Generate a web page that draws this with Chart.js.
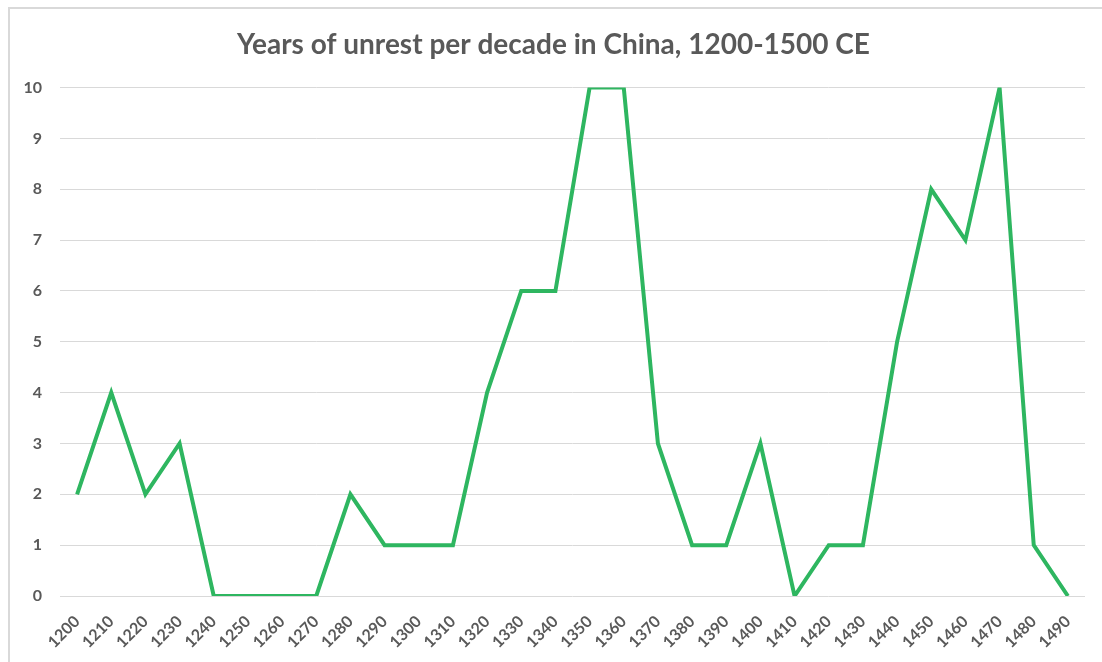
<!DOCTYPE html>
<html>
<head>
<meta charset="utf-8">
<title>Years of unrest per decade in China</title>
<script src="https://cdn.jsdelivr.net/npm/chart.js@4.4.0/dist/chart.umd.min.js"></script>
<style>
  html, body { margin: 0; padding: 0; background: #fff; }
  #wrap { position: relative; width: 1102px; height: 662px; }
  #frame {
    position: absolute; left: 8px; top: 7px; right: 0; bottom: 0;
    border-top: 2px solid #d9d9d9; border-left: 2px solid #d9d9d9;
    pointer-events: none;
  }
</style>
</head>
<body>
<div id="wrap">
  <canvas id="unrestChart" width="1102" height="662"></canvas>
  <div id="frame"></div>
</div>
<script>
  // decades
  const decades = ['1200', '1210', '1220', '1230', '1240', '1250', '1260', '1270', '1280', '1290',
    '1300', '1310', '1320', '1330', '1340', '1350', '1360', '1370', '1380', '1390',
    '1400', '1410', '1420', '1430', '1440', '1450', '1460', '1470', '1480', '1490'];
  // years of unrest in each decade
  const unrestYears = [2, 4, 2, 3, 0, 0, 0, 0, 2, 1,
    1, 1, 4, 6, 6, 10, 10, 3, 1, 1,
    3, 0, 1, 1, 5, 8, 7, 10, 1, 0];
  const yTicks = [0, 1, 2, 3, 4, 5, 6, 7, 8, 9, 10];

  const textGray = '#595959';
  const ctx = document.getElementById('unrestChart').getContext('2d');

  const unrestChart = new Chart(ctx, {
    type: 'line',
    data: {
      labels: decades,
      datasets: [{
        label: 'Years of unrest',
        data: unrestYears,
        borderColor: 'rgb(46, 182, 96)',
        borderWidth: 4,
        pointRadius: 0,
        tension: 0,
        fill: false
      }]
    },
    options: {
      responsive: false,
      animation: false,
      // left padding nudges the title right, y labels are clipped to the scale box so keep it small
      layout: { padding: { left: 22, right: 17, top: 0, bottom: 0 } },
      scales: {
        x: {
          offset: true,
          grid: { display: false },
          border: { display: false },
          ticks: {
            color: textGray,
            font: { family: 'Lato', size: 16, weight: 'bold' },
            maxRotation: 45,
            minRotation: 45,
            autoSkip: false,
            padding: 8
          },
          afterFit: (scale) => { scale.height = 66; }
        },
        y: {
          min: 0,
          max: 10,
          afterBuildTicks: (scale) => { scale.ticks = yTicks.map(v => ({ value: v })); },
          grid: { color: '#d9d9d9', lineWidth: 1, drawTicks: false },
          border: { display: false },
          ticks: {
            color: textGray,
            font: { family: 'Lato', size: 16, weight: 'bold' },
            padding: 18
          },
          afterFit: (scale) => { scale.width = 38; }
        }
      },
      plugins: {
        legend: { display: false },
        tooltip: { enabled: false },
        title: {
          display: true,
          text: 'Years of unrest per decade in China, 1200-1500 CE',
          color: textGray,
          font: { family: 'Lato', size: 28, weight: 'bold' },
          padding: { top: 28, bottom: 26 }
        }
      }
    }
  });
</script>
</body>
</html>
